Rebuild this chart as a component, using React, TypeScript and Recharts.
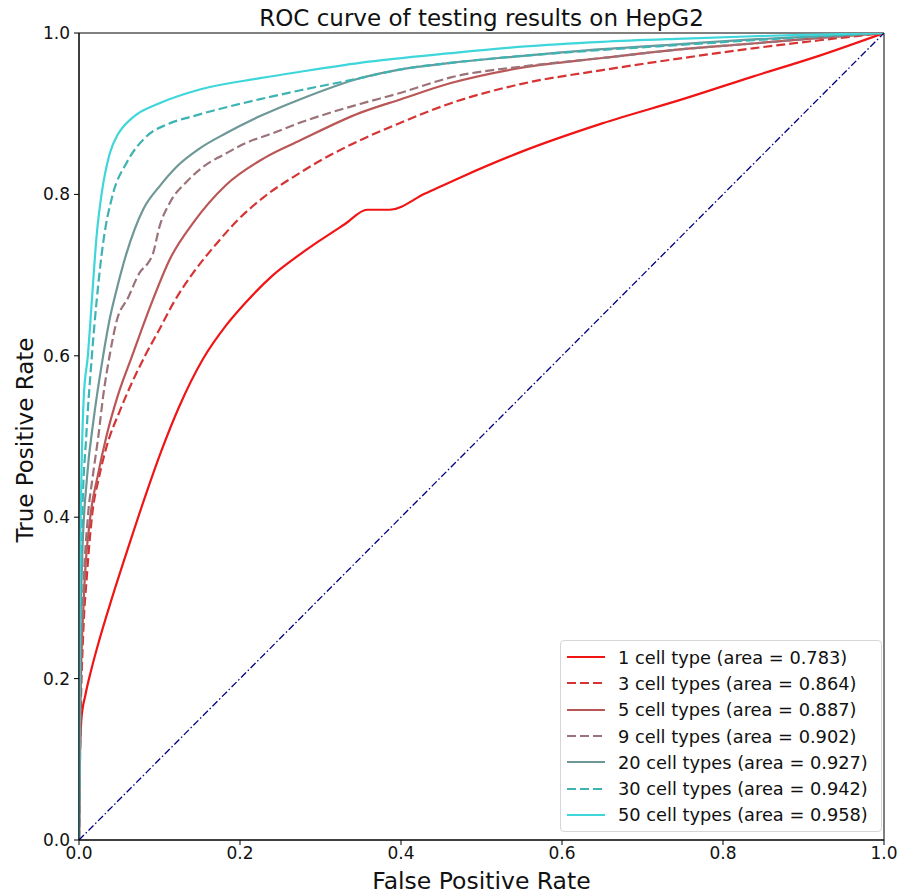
import React from "react";
import { LineChart, Line, XAxis, YAxis, Legend, ReferenceArea } from "recharts";

type Pt = [number, number];

// [fpr, tpr] pairs
const oneType: Pt[] = [
  [0, 0], [0.001, 0.1], [0.003, 0.15], [0.008, 0.18], [0.015, 0.21], [0.025, 0.247],
  [0.041, 0.3], [0.062, 0.365], [0.083, 0.428], [0.103, 0.484], [0.124, 0.536],
  [0.154, 0.596], [0.183, 0.638], [0.208, 0.667], [0.24, 0.699], [0.275, 0.726], [0.298, 0.742],
  [0.33, 0.763], [0.358, 0.781], [0.386, 0.781], [0.43, 0.801], [0.476, 0.822], [0.55, 0.853],
  [0.65, 0.888], [0.75, 0.918], [0.837, 0.946], [0.92, 0.972], [1, 1],
];
const threeTypes: Pt[] = [
  [0, 0], [0.002, 0.15], [0.005, 0.25], [0.01, 0.33], [0.016, 0.4], [0.025, 0.45], [0.035, 0.49],
  [0.05, 0.53], [0.065, 0.565], [0.082, 0.6], [0.1, 0.633], [0.117, 0.665], [0.142, 0.703],
  [0.17, 0.738], [0.196, 0.767], [0.23, 0.797], [0.275, 0.827], [0.3, 0.842], [0.349, 0.867],
  [0.4, 0.889], [0.462, 0.913], [0.55, 0.937], [0.65, 0.954], [0.75, 0.969], [0.837, 0.981],
  [0.92, 0.991], [1, 1],
];
const fiveTypes: Pt[] = [
  [0, 0], [0.002, 0.18], [0.006, 0.3], [0.014, 0.4], [0.023, 0.45], [0.034, 0.5], [0.048, 0.55],
  [0.066, 0.6], [0.09, 0.665], [0.113, 0.72], [0.142, 0.765], [0.183, 0.812], [0.23, 0.845],
  [0.275, 0.867], [0.349, 0.901], [0.4, 0.918], [0.462, 0.938], [0.55, 0.957], [0.65, 0.969],
  [0.75, 0.98], [0.837, 0.987], [0.92, 0.994], [1, 1],
];
const nineTypes: Pt[] = [
  [0, 0], [0.002, 0.2], [0.005, 0.3], [0.011, 0.4], [0.017, 0.45], [0.024, 0.5], [0.03, 0.55],
  [0.038, 0.6], [0.047, 0.644], [0.061, 0.672], [0.076, 0.704], [0.085, 0.714], [0.092, 0.727],
  [0.1, 0.76], [0.113, 0.79], [0.134, 0.816], [0.154, 0.834], [0.183, 0.851], [0.208, 0.864],
  [0.241, 0.876], [0.275, 0.889], [0.308, 0.9], [0.349, 0.912], [0.4, 0.926], [0.462, 0.945],
  [0.555, 0.959], [0.65, 0.969], [0.75, 0.98], [0.837, 0.987], [0.92, 0.994], [1, 1],
];
const twentyTypes: Pt[] = [
  [0, 0], [0.001, 0.2], [0.004, 0.35], [0.01, 0.45], [0.018, 0.52], [0.03, 0.6], [0.038, 0.645],
  [0.045, 0.675], [0.059, 0.727], [0.08, 0.782], [0.1, 0.81], [0.121, 0.834], [0.15, 0.857],
  [0.183, 0.876], [0.225, 0.897], [0.275, 0.918], [0.349, 0.944], [0.4, 0.955], [0.462, 0.963],
  [0.555, 0.972], [0.65, 0.98], [0.743, 0.986], [0.837, 0.992], [0.92, 0.996], [1, 1],
];
const thirtyTypes: Pt[] = [
  [0, 0], [0.001, 0.25], [0.004, 0.4], [0.009, 0.5], [0.016, 0.6], [0.022, 0.669], [0.03, 0.74],
  [0.042, 0.8], [0.059, 0.839], [0.084, 0.872], [0.11, 0.887], [0.142, 0.897], [0.183, 0.908],
  [0.225, 0.918], [0.275, 0.929], [0.349, 0.944], [0.4, 0.955], [0.462, 0.963], [0.555, 0.972],
  [0.65, 0.979], [0.743, 0.985], [0.837, 0.991], [0.92, 0.996], [1, 1],
];
const fiftyTypes: Pt[] = [
  [0, 0], [0.001, 0.3], [0.003, 0.45], [0.006, 0.55], [0.011, 0.6], [0.016, 0.669], [0.022, 0.75],
  [0.028, 0.8], [0.038, 0.85], [0.048, 0.874], [0.056, 0.885], [0.07, 0.898], [0.1, 0.913],
  [0.15, 0.93], [0.225, 0.944], [0.275, 0.952], [0.349, 0.963], [0.462, 0.975], [0.55, 0.983],
  [0.65, 0.989], [0.75, 0.993], [0.837, 0.996], [0.92, 0.998], [1, 1],
];
const chance: Pt[] = [[0, 0], [1, 1]];

const ticks = [0, 0.2, 0.4, 0.6, 0.8, 1.0];

const DASH = "9 4";
const SERIES = [
  { name: "1 cell type (area = 0.783)", pts: oneType, color: "#f01414", dash: undefined },
  { name: "3 cell types (area = 0.864)", pts: threeTypes, color: "#d63434", dash: DASH },
  { name: "5 cell types (area = 0.887)", pts: fiveTypes, color: "#bb5656", dash: undefined },
  { name: "9 cell types (area = 0.902)", pts: nineTypes, color: "#9c7279", dash: DASH },
  { name: "20 cell types (area = 0.927)", pts: twentyTypes, color: "#6e9797", dash: undefined },
  { name: "30 cell types (area = 0.942)", pts: thirtyTypes, color: "#3eb3b3", dash: DASH },
  { name: "50 cell types (area = 0.958)", pts: fiftyTypes, color: "#3ed6da", dash: undefined },
];

const toRows = (pts: Pt[]) => pts.map(([fpr, tpr]) => ({ fpr, tpr }));

const FONT = "'DejaVu Sans', sans-serif";

function LegendBox() {
  return (
    <div
      style={{
        border: "1px solid #d6d6d6",
        borderRadius: 4,
        background: "rgba(255,255,255,0.85)",
        padding: "3px 0 3px 6px",
        fontFamily: FONT,
        fontSize: 17.8,
        color: "#111",
      }}
    >
      {SERIES.map((s) => (
        <div key={s.name} style={{ display: "flex", alignItems: "center", height: 26.3, whiteSpace: "nowrap" }}>
          <svg width={38} height={10} style={{ marginRight: 13 }}>
            <line x1={0} y1={5} x2={38} y2={5} stroke={s.color} strokeWidth={2.2} strokeDasharray={s.dash} />
          </svg>
          <span>{s.name}</span>
        </div>
      ))}
    </div>
  );
}

export default function App() {
  return (
    <div style={{ position: "absolute", left: 0, top: 0, width: 903, height: 896, background: "#fff", fontFamily: FONT, color: "#111" }}>
      <div style={{ position: "absolute", left: 79, width: 805, top: 6, height: 24, lineHeight: "24px", fontSize: 23, textAlign: "center", whiteSpace: "nowrap" }}>
        ROC curve of testing results on HepG2
      </div>
      <div style={{ position: "absolute", left: 79, width: 805, top: 869, height: 24, lineHeight: "24px", fontSize: 23.5, textAlign: "center", whiteSpace: "nowrap" }}>
        False Positive Rate
      </div>
      <div
        style={{
          position: "absolute", left: -125, top: 428, width: 300, height: 24, lineHeight: "24px",
          fontSize: 23, textAlign: "center", transform: "rotate(-90deg)", whiteSpace: "nowrap",
        }}
      >
        True Positive Rate
      </div>
      <LineChart width={903} height={896} margin={{ top: 33, right: 19, bottom: 0, left: 0 }} style={{ position: "absolute", left: 0, top: 0 }}>
        <XAxis
          dataKey="fpr"
          type="number"
          domain={[0, 1]}
          ticks={ticks}
          tickFormatter={(v) => v.toFixed(1)}
          height={56}
          tickSize={5}
          tickMargin={2}
          stroke="#000"
          tick={{ fontSize: 17, fill: "#111", fontFamily: FONT }}
          allowDataOverflow
        />
        <YAxis
          type="number"
          domain={[0, 1]}
          ticks={ticks}
          tickFormatter={(v) => v.toFixed(1)}
          width={79}
          tickSize={5}
          tickMargin={4}
          stroke="#000"
          tick={{ fontSize: 17, fill: "#111", fontFamily: FONT }}
          allowDataOverflow
        />
        <ReferenceArea x1={0} x2={1} y1={0} y2={1} fill="none" stroke="#000" strokeWidth={1} />
        {SERIES.map((s) => (
          <Line
            key={s.name}
            data={toRows(s.pts)}
            dataKey="tpr"
            name={s.name}
            type="monotone"
            stroke={s.color}
            strokeWidth={2.2}
            strokeDasharray={s.dash}
            dot={false}
            activeDot={false}
            isAnimationActive={false}
          />
        ))}
        <Line
          data={toRows(chance)}
          dataKey="tpr"
          name="chance"
          type="linear"
          stroke="#000080"
          strokeWidth={1.3}
          strokeDasharray="7 2.5 1.5 2.5"
          dot={false}
          activeDot={false}
          legendType="none"
          isAnimationActive={false}
        />
        <Legend
          layout="vertical"
          align="center"
          verticalAlign="middle"
          content={() => <LegendBox />}
          wrapperStyle={{ position: "absolute", left: 560, top: 640, width: 322, height: "auto" }}
        />
      </LineChart>
    </div>
  );
}
